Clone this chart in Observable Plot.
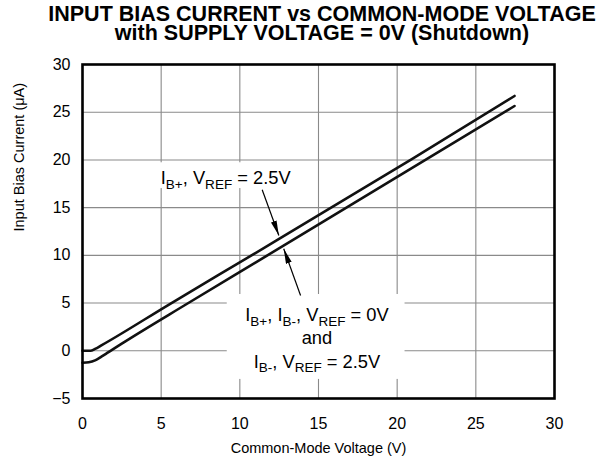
<!DOCTYPE html>
<html><head><meta charset="utf-8">
<script src="https://cdn.jsdelivr.net/npm/d3@7"></script>
<script src="https://cdn.jsdelivr.net/npm/@observablehq/plot@0.6"></script>
<style>
body{margin:0;background:#fff;font-family:"Liberation Sans",Arial,sans-serif;}
#title{height:50px;box-sizing:border-box;padding-top:5.3px;padding-left:30px;width:614px;text-align:center;font-weight:bold;font-size:21.5px;line-height:19px;color:#000;}
#chart svg{display:block;}
</style></head><body>
<div id="title"><div>INPUT BIAS CURRENT vs COMMON-MODE VOLTAGE</div><div>with SUPPLY VOLTAGE = 0V (Shutdown)</div></div>
<div id="chart"></div>
<script>
// Tick values
const xTicks = [0, 5, 10, 15, 20, 25, 30];
const yTicks = [-5, 0, 5, 10, 15, 20, 25, 30];

// Curve: I_B+, V_REF = 2.5V (upper)
const upperV = [0, 0.5, 0.8, 1.2, 5.55, 10.85, 20.96, 27.46];
const upperI = [0, 0, 0.2, 0.57, 4.9, 10.1, 20.1, 26.7];

// Curve: I_B+, I_B-, V_REF = 0V and I_B-, V_REF = 2.5V (lower)
const lowerV = [0, 0.4, 0.8, 1.2, 1.6, 2.0, 2.6, 6.65, 11.78, 21.9, 27.46];
const lowerI = [-1.26, -1.2, -1.0, -0.62, -0.2, 0.23, 0.86, 4.93, 10.03, 20.1, 25.65];

// Annotation texts and anchors (data coordinates)
const labelText = ["I_{B+}, V_{REF} = 2.5V", "I_{B+}, I_{B-}, V_{REF} = 0V", "and", "I_{B-}, V_{REF} = 2.5V"];
const labelV = [9.1, 14.9, 14.9, 14.9];
const labelI = [18.1, 3.7, 1.36, -1.15];

// White label backgrounds
const boxV1 = [4.4, 9.2];
const boxV2 = [13.7, 20.5];
const boxI1 = [17.0, -3.0];
const boxI2 = [19.7, 5.9];

// Arrows (tail -> tip)
const arrowV1 = [11.42, 13.86];
const arrowI1 = [16.87, 5.8];
const arrowV2 = [12.48, 12.79];
const arrowI2 = [12.08, 10.69];

const upper = upperV.map((v, i) => ({v, i: upperI[i]}));
const lower = lowerV.map((v, i) => ({v, i: lowerI[i]}));
const labels = labelText.map((t, k) => ({t, v: labelV[k], i: labelI[k]}));
const boxes = boxV1.map((v, k) => ({v1: v, v2: boxV2[k], i1: boxI1[k], i2: boxI2[k]}));
const arrows = arrowV1.map((v, k) => ({v1: v, i1: arrowI1[k], v2: arrowV2[k], i2: arrowI2[k]}));

const chart = Plot.plot({
  width: 614,
  height: 411,
  marginLeft: 82,
  marginRight: 60,
  marginTop: 14,
  marginBottom: 63,
  style: {fontFamily: "Liberation Sans, Arial, sans-serif", fontSize: "16px", color: "#000", background: "#fff"},
  x: {domain: [0, 30], ticks: xTicks, tickSize: 0, tickPadding: 19, label: null},
  y: {domain: [-5, 30], ticks: yTicks, tickSize: 0, tickPadding: 12, label: null},
  marks: [
    Plot.ruleX(xTicks, {stroke: "#8a8a8a", strokeWidth: 1.1}),
    Plot.ruleY(yTicks, {stroke: "#8a8a8a", strokeWidth: 1.1}),
    Plot.rect(boxes, {x1: "v1", x2: "v2", y1: "i1", y2: "i2", fill: "#fff"}),
    Plot.line(upper, {x: "v", y: "i", stroke: "#111", strokeWidth: 2.6, curve: "monotone-x"}),
    Plot.line(lower, {x: "v", y: "i", stroke: "#111", strokeWidth: 2.6, curve: "monotone-x"}),
    Plot.link(arrows, {x1: "v1", y1: "i1", x2: "v2", y2: "i2", stroke: "#000", strokeWidth: 1.2}),
    Plot.text(labels, {x: "v", y: "i", text: "t", fontSize: 18.3, fill: "#000", textAnchor: "middle"}),
    Plot.text(["Input Bias Current (\u03bcA)"], {frameAnchor: "left", rotate: -90, dx: -63, fontSize: 14.5, fill: "#000"}),
    Plot.text(["Common-Mode Voltage (V)"], {frameAnchor: "bottom", dy: 54, fontSize: 14.5, fill: "#000"}),
    Plot.frame({stroke: "#000", strokeWidth: 2.6})
  ]
});

// subscripts
const ns = "http://www.w3.org/2000/svg";
chart.querySelectorAll("text").forEach(t => {
  const s = t.textContent;
  if (!s.includes("_{")) return;
  const parts = s.split(/(_\{[^}]*\})/);
  while (t.firstChild) t.removeChild(t.firstChild);
  let shifted = false;
  parts.forEach(p => {
    if (!p) return;
    const ts = document.createElementNS(ns, "tspan");
    if (p.startsWith("_{")) {
      ts.textContent = p.slice(2, -1);
      ts.setAttribute("font-size", "0.74em");
      ts.setAttribute("dy", "4.6");
      shifted = true;
    } else {
      ts.textContent = p;
      if (shifted) { ts.setAttribute("dy", "-4.6"); shifted = false; }
    }
    t.appendChild(ts);
  });
});

// filled arrowheads
const defs = document.createElementNS(ns, "defs");
const marker = document.createElementNS(ns, "marker");
marker.setAttribute("id", "ahead");
marker.setAttribute("viewBox", "0 0 15 6");
marker.setAttribute("refX", "15");
marker.setAttribute("refY", "3");
marker.setAttribute("markerWidth", "15");
marker.setAttribute("markerHeight", "6");
marker.setAttribute("markerUnits", "userSpaceOnUse");
marker.setAttribute("orient", "auto");
const mp = document.createElementNS(ns, "path");
mp.setAttribute("d", "M0,0L15,3L0,6Z");
mp.setAttribute("fill", "#000");
marker.appendChild(mp);
defs.appendChild(marker);
chart.insertBefore(defs, chart.firstChild);
chart.querySelectorAll('g[aria-label="link"] path, g[aria-label="link"] line').forEach(p => p.setAttribute("marker-end", "url(#ahead)"));

document.getElementById("chart").appendChild(chart);
</script>
</body></html>
